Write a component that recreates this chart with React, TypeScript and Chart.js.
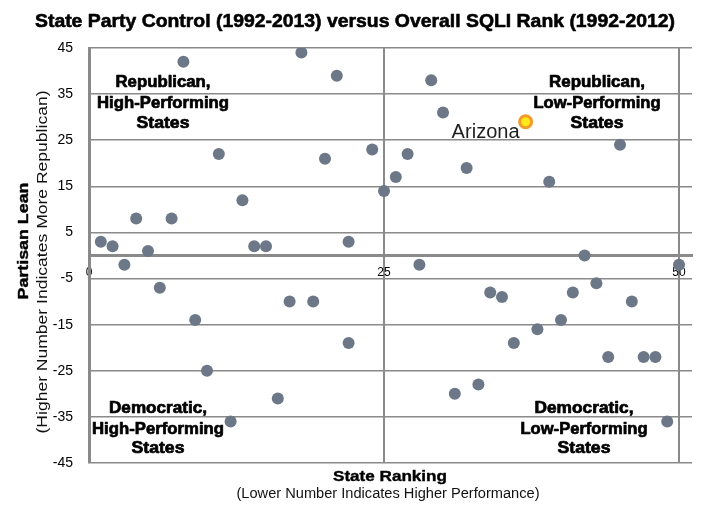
import React, { useEffect, useRef } from "react";
import { Chart, registerables } from "chart.js";

Chart.register(...registerables);

// ---- data ----
const ranks = [1, 2, 3, 4, 5, 6, 7, 8, 9, 10, 11, 12, 13, 14, 15, 16, 17, 18, 19, 20, 21, 22, 22, 24, 25, 26, 27, 28, 29, 30, 31, 32, 33, 34, 35, 36, 38, 39, 40, 41, 42, 43, 44, 45, 46, 47, 48, 49, 50];
const lean = [3, 2, -2, 8, 1, -7, 8, 42, -14, -25, 22, -36, 12, 2, 2, -31, -10, 44, -10, 21, 39, 3, -19, 23, 14, 17, 22, -2, 38, 31, -30, 19, -28, -8, -9, -19, -16, 16, -14, -8, 0, -6, -22, 24, -10, -22, -22, -36, -2];
const arizonaRank = [37];
const arizonaLean = [29];
const arizonaName = "Arizona";
const xTickValues = [0, 25, 50];
const yTickValues = [-45, -35, -25, -15, -5, 5, 15, 25, 35, 45];

const titleText = "State Party Control (1992-2013) versus Overall SQLI Rank (1992-2012)";
const xTitle = "State Ranking";
const xSubtitle = "(Lower Number Indicates Higher Performance)";
const yTitle = "Partisan Lean";
const ySubtitle = "(Higher Number Indicates More Republican)";
const quadrantRepHigh = ["Republican,", "High-Performing", "States"];
const quadrantRepLow = ["Republican,", "Low-Performing", "States"];
const quadrantDemHigh = ["Democratic,", "High-Performing", "States"];
const quadrantDemLow = ["Democratic,", "Low-Performing", "States"];

const FONT = "'Liberation Sans', Arial, sans-serif";
const GRID = "#8a8a8a";

export default function App() {
  const ref = useRef<HTMLCanvasElement>(null);

  useEffect(() => {
    if (!ref.current) return;

    const drawFit = (
      ctx: CanvasRenderingContext2D,
      text: string,
      x: number,
      y: number,
      font: string,
      width: number,
      opts: { rotate?: boolean; align?: CanvasTextAlign; stroke?: number; color?: string } = {}
    ) => {
      ctx.save();
      ctx.font = font;
      const w = ctx.measureText(text).width;
      const sx = width / w;
      ctx.translate(x, y);
      if (opts.rotate) ctx.rotate(-Math.PI / 2);
      ctx.scale(sx, 1);
      ctx.textAlign = opts.align || "center";
      ctx.textBaseline = "alphabetic";
      ctx.fillStyle = opts.color || "#000";
      ctx.fillText(text, 0, 0);
      if (opts.stroke) {
        ctx.strokeStyle = opts.color || "#000";
        ctx.lineWidth = opts.stroke;
        ctx.lineJoin = "round";
        ctx.strokeText(text, 0, 0);
      }
      ctx.restore();
    };

    const textPlugin = {
      id: "textPlugin",
      afterDatasetsDraw(chart: any) {
        const ctx = chart.ctx as CanvasRenderingContext2D;
        // title
        drawFit(ctx, titleText, 355, 27, `bold 19px ${FONT}`, 640, { stroke: 0.6 });
        // axis titles
        drawFit(ctx, xTitle, 390, 481, `bold 15px ${FONT}`, 114, { stroke: 0.4 });
        drawFit(ctx, xSubtitle, 388, 498, `14px ${FONT}`, 303, { color: "#111" });
        drawFit(ctx, yTitle, 28, 241, `bold 15px ${FONT}`, 117, { rotate: true, stroke: 0.4 });
        drawFit(ctx, ySubtitle, 47, 262, `14px ${FONT}`, 343, { rotate: true, color: "#111" });

        // quadrant labels
        const qFont = `bold 16.5px ${FONT}`;
        const drawQ = (lines: string[], cx: number, baselines: number[], widths: number[]) => {
          lines.forEach((l, i) => drawFit(ctx, l, cx, baselines[i], qFont, widths[i], { stroke: 0.7 }));
        };
        drawQ(quadrantRepHigh, 163, [87, 107.5, 128], [95, 132, 53]);
        drawQ(quadrantRepLow, 597, [87, 107.5, 128], [96, 127, 53]);
        drawQ(quadrantDemHigh, 158, [413, 434, 453], [98, 132, 53]);
        drawQ(quadrantDemLow, 584, [413, 434, 453], [99, 127, 53]);

        // Arizona label next to its point
        const xs = chart.scales.x;
        const ys = chart.scales.y;
        const px = xs.getPixelForValue(arizonaRank[0]);
        const py = ys.getPixelForValue(arizonaLean[0]);
        drawFit(ctx, arizonaName, px - 40, py + 16, `20px ${FONT}`, 68, { color: "#1e1e1e" });
      },
    };

    const chart = new Chart(ref.current, {
      type: "scatter",
      data: {
        datasets: [
          {
            data: ranks.map((r, i) => ({ x: r, y: lean[i] })),
            backgroundColor: "#6c7787",
            borderColor: "#6c7787",
            borderWidth: 0,
            pointRadius: 6,
          },
          {
            data: arizonaRank.map((r, i) => ({ x: r, y: arizonaLean[i] })),
            backgroundColor: "#ffe81a",
            borderColor: "#f39a2b",
            borderWidth: 3,
            pointRadius: 6,
          },
        ],
      },
      options: {
        animation: false,
        responsive: true,
        maintainAspectRatio: false,
        layout: { padding: { left: 0, top: 48, right: 16, bottom: 50 } },
        plugins: {
          legend: { display: false },
          tooltip: { enabled: false },
          title: { display: false },
        },
        scales: {
          x: {
            type: "linear",
            min: 0,
            max: 51.1,
            position: { y: 0 } as any,
            afterBuildTicks: (scale: any) => {
              scale.ticks = xTickValues.map((v) => ({ value: v }));
            },
            ticks: {
              color: "#000",
              font: { family: FONT, size: 12 },
              padding: 10,
              maxRotation: 0,
            },
            grid: { color: GRID, lineWidth: 2, drawTicks: false },
            border: { display: true, color: GRID, width: 3 },
          },
          y: {
            type: "linear",
            min: -45,
            max: 45,
            position: "left",
            afterBuildTicks: (scale: any) => {
              scale.ticks = yTickValues.map((v) => ({ value: v }));
            },
            afterFit: (scale: any) => {
              scale.width = 89;
            },
            ticks: {
              color: "#000",
              font: { family: FONT, size: 14 },
              padding: 16,
            },
            grid: { color: GRID, lineWidth: 1.5, drawTicks: false },
            border: { display: true, color: GRID, width: 3 },
          },
        },
      },
      plugins: [textPlugin],
    });

    return () => chart.destroy();
  }, []);

  return (
    <div style={{ position: "fixed", left: 0, top: 0, width: 708, height: 513, background: "#fff" }}>
      <canvas ref={ref} />
    </div>
  );
}
